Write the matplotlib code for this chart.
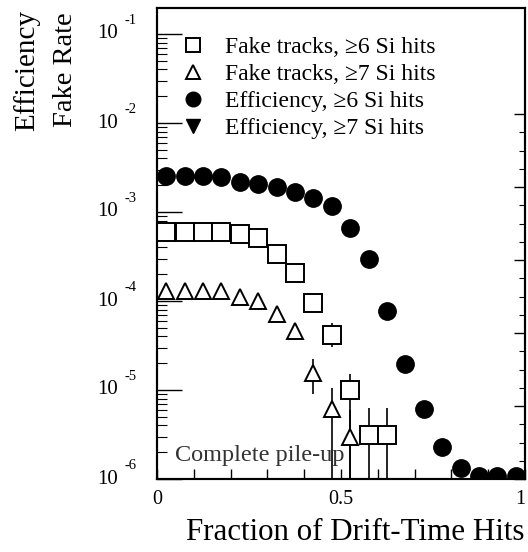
import numpy as np
import matplotlib
matplotlib.use('Agg')
import matplotlib.pyplot as plt
from matplotlib.ticker import FixedLocator, NullFormatter
from matplotlib.lines import Line2D

plt.rcParams['font.family'] = ['Liberation Serif', 'DejaVu Serif']
plt.rcParams['mathtext.fontset'] = 'stix'

# == bin centres (fraction of drift-time hits) == #
x_bins = [0.025, 0.075, 0.125, 0.175, 0.225, 0.275, 0.325, 0.375, 0.425, 0.475,
          0.525, 0.575, 0.625, 0.675, 0.725, 0.775, 0.825, 0.875, 0.925, 0.975]

# fake rate, >=6 Si hits (first 13 bins)
fake6 = [5.96e-4, 5.96e-4, 5.96e-4, 5.96e-4, 5.66e-4, 5.1e-4, 3.37e-4, 2.06e-4,
         9.5e-5, 4.15e-5, 1.0e-5, 3.1e-6, 3.1e-6]
fake6_lo = [0, 0, 0, 0, 0, 0, 0, 0, 0, 3.04e-5, 1e-7, 1e-7, 1e-7]
fake6_hi = [0, 0, 0, 0, 0, 0, 0, 0, 0, 5.66e-5, 1.51e-5, 6.3e-6, 6.3e-6]

# fake rate, >=7 Si hits (first 11 bins)
fake7 = [1.29e-4, 1.29e-4, 1.29e-4, 1.29e-4, 1.11e-4, 1.0e-4, 7.1e-5, 4.6e-5,
         1.55e-5, 6.1e-6, 3.0e-6]
fake7_lo = [0, 0, 0, 0, 0, 0, 0, 0, 9.0e-6, 1e-7, 1e-7]
fake7_hi = [0, 0, 0, 0, 0, 0, 0, 0, 2.23e-5, 1.05e-5, 6.0e-6]

# efficiency (linear right scale)
eff6 = [0.830, 0.830, 0.830, 0.827, 0.814, 0.808, 0.800, 0.786, 0.770, 0.748,
        0.688, 0.603, 0.460, 0.315, 0.192, 0.088, 0.030, 0.008, 0.008, 0.008]
eff7 = [0.830, 0.830, 0.830, 0.827, 0.814, 0.808, 0.800, 0.786, 0.770, 0.748,
        0.688, 0.603, 0.460, 0.315, 0.192, 0.088, 0.030, 0.008, 0.008, 0.008]

y_exps = [1, 2, 3, 4, 5, 6]


def err_pairs(vals, lo, hi):
    low = [v - l if l > 0 else 0 for v, l in zip(vals, lo)]
    up = [h - v if h > 0 else 0 for v, h in zip(vals, hi)]
    return [low, up]


fig = plt.figure(figsize=(5.28, 5.52), dpi=100)
ax = fig.add_axes([157/528, 73/552, 368/528, 471/552])

x6 = x_bins[:len(fake6)]
x7 = x_bins[:len(fake7)]
ax.errorbar(x6, fake6, yerr=err_pairs(fake6, fake6_lo, fake6_hi), fmt='none',
            ecolor='black', elinewidth=1.2, capsize=0, zorder=2)
ax.errorbar(x7, fake7, yerr=err_pairs(fake7, fake7_lo, fake7_hi), fmt='none',
            ecolor='black', elinewidth=1.2, capsize=0, zorder=2)
ax.plot(x6, fake6, ls='none', marker='s', ms=12.5, mfc='white', mec='black', mew=1.4, zorder=3)
ax.plot(x7, fake7, ls='none', marker='^', ms=11.5, mfc='white', mec='black', mew=1.4, zorder=3)

ax.set_yscale('log')
ax.set_xlim(0, 1)
ax.set_ylim(1e-6, 10**(-6 + 471/89))

ax.xaxis.set_major_locator(FixedLocator([0, 0.5, 1]))
ax.xaxis.set_minor_locator(FixedLocator([0.1, 0.2, 0.3, 0.4, 0.6, 0.7, 0.8, 0.9]))
ax.set_xticklabels(['0', '0.5', '1'])
ax.tick_params(axis='x', which='both', direction='in', length=7, width=1.0,
               labelsize=14.5, pad=8, top=False)
ax.get_xticklabels()[-1].set_horizontalalignment('right')

ax.yaxis.set_major_locator(FixedLocator([10.0**-k for k in y_exps]))
minors = [m * 10.0**-k for k in y_exps for m in range(2, 10)]
ax.yaxis.set_minor_locator(FixedLocator(minors))
ax.yaxis.set_major_formatter(NullFormatter())
ax.yaxis.set_minor_formatter(NullFormatter())
ax.tick_params(axis='y', which='major', direction='in', length=18, width=1.0, right=False)
ax.tick_params(axis='y', which='minor', direction='in', length=7, width=0.8, right=False)

ytr = ax.get_yaxis_transform()
for k in y_exps:
    ax.text(-0.105, 10.0**-k, '10', transform=ytr, ha='right', va='center', fontsize=15)
    ax.annotate('-%d' % k, xy=(-0.087, 10.0**-k), xycoords=ytr, xytext=(0, 10),
                textcoords='offset points', ha='left', va='center', fontsize=10.5)

for s in ax.spines.values():
    s.set_linewidth(1.5)

# == efficiency on linear right axis == #
ax2 = ax.twinx()
ax2.set_ylim(0, 471/365)
ax2.plot(x_bins, eff7, ls='none', marker='v', ms=8, color='black', zorder=3)
ax2.plot(x_bins, eff6, ls='none', marker='o', ms=12.5, color='black', zorder=4)
ax2.yaxis.set_major_locator(FixedLocator([0, 0.2, 0.4, 0.6, 0.8, 1.0]))
ax2.yaxis.set_minor_locator(FixedLocator([0.05, 0.1, 0.15, 0.25, 0.3, 0.35, 0.45, 0.5, 0.55,
                                          0.65, 0.7, 0.75, 0.85, 0.9, 0.95]))
ax2.yaxis.set_major_formatter(NullFormatter())
ax2.tick_params(axis='y', which='major', direction='in', length=8, width=1.0)
ax2.tick_params(axis='y', which='minor', direction='in', length=4.5, width=0.8)
for s in ax2.spines.values():
    s.set_linewidth(1.5)

handles = [
    Line2D([], [], ls='none', marker='s', ms=10.5, mfc='white', mec='black', mew=1.4),
    Line2D([], [], ls='none', marker='^', ms=10.5, mfc='white', mec='black', mew=1.4),
    Line2D([], [], ls='none', marker='o', ms=10.5, color='black'),
    Line2D([], [], ls='none', marker='v', ms=10.5, color='black'),
]
labels = ['Fake tracks, \u22656 Si hits', 'Fake tracks, \u22657 Si hits',
          'Efficiency, \u22656 Si hits', 'Efficiency, \u22657 Si hits']
ax2.legend(handles, labels, loc='upper left', bbox_to_anchor=(0.022, 0.975), frameon=False,
           fontsize=17, handlelength=1.0, handletextpad=0.85, labelspacing=0.24,
           borderpad=0.2)

ax2.text(0.05, 1.86e-6, 'Complete pile-up', transform=ax.get_yaxis_transform(),
         fontsize=17.5, color='#333333', va='center', ha='left')

fig.text(525/528, 1 - 533/552, 'Fraction of Drift-Time Hits', ha='right', va='center', fontsize=22.3)
fig.text(27/528, 1 - 10/552, 'Efficiency', rotation=90, ha='center', va='top', fontsize=21)
fig.text(65/528, 1 - 12/552, 'Fake Rate', rotation=90, ha='center', va='top', fontsize=20.5)

fig.savefig('out.png', dpi=100)
